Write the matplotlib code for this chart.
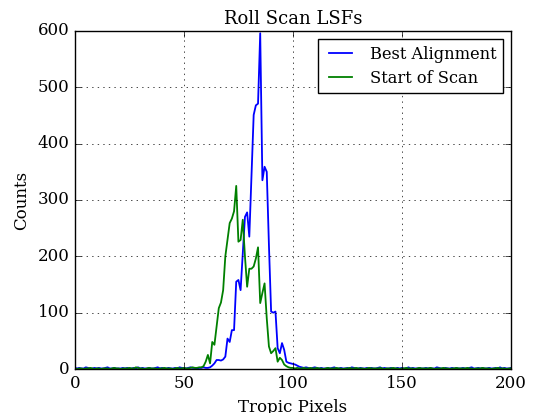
import matplotlib
matplotlib.use('Agg')
import matplotlib.pyplot as plt
import numpy as np

plt.style.use('classic')
plt.rcParams['font.family'] = 'serif'
plt.rcParams['font.serif'] = ['DejaVu Serif']

# Counts per tropic pixel, 0..200
best_alignment = [
    2, 1, 2, 1, 1, 3, 2, 1, 1, 2,
    1, 2, 1, 1, 2, 3, 1, 1, 2, 1,
    1, 1, 2, 1, 2, 1, 1, 2, 1, 3,
    1, 2, 1, 1, 2, 1, 1, 2, 3, 1,
    2, 1, 1, 2, 1, 1, 2, 1, 3, 2,
    2, 1, 2, 3, 2, 2, 1, 2, 2, 3,
    2, 2, 3, 6, 10, 16, 16, 15, 17, 22,
    54, 48, 69, 69, 155, 158, 140, 205, 270, 278,
    235, 345, 451, 468, 471, 596, 335, 359, 350, 220,
    102, 100, 102, 37, 28, 46, 34, 13, 11, 10,
    9, 8, 6, 4, 3, 2, 3, 2, 1, 2,
    3, 2, 1, 2, 1, 1, 2, 1, 2, 3,
    1, 1, 2, 1, 1, 2, 1, 3, 2, 1,
    1, 2, 1, 1, 2, 1, 2, 1, 1, 2,
    3, 1, 2, 1, 1, 2, 1, 1, 2, 1,
    2, 1, 1, 3, 1, 2, 1, 1, 2, 1,
    1, 2, 1, 2, 1, 1, 3, 2, 1, 1,
    2, 1, 1, 2, 1, 2, 1, 1, 2, 1,
    1, 2, 3, 1, 1, 2, 1, 2, 1, 1,
    2, 1, 1, 2, 1, 3, 1, 2, 1, 1,
    2,
]

start_of_scan = [
    1, 0, 1, 1, 0, 1, 1, 2, 1, 0,
    1, 1, 0, 1, 1, 1, 0, 1, 2, 1,
    1, 0, 1, 1, 1, 2, 1, 1, 3, 2,
    1, 1, 0, 1, 2, 1, 1, 1, 0, 1,
    1, 2, 1, 1, 1, 0, 1, 2, 1, 1,
    2, 1, 1, 2, 3, 2, 2, 3, 3, 5,
    13, 25, 10, 48, 43, 75, 108, 118, 140, 200,
    229, 259, 267, 280, 325, 226, 229, 265, 200, 146,
    178, 178, 182, 196, 216, 117, 135, 152, 90, 40,
    28, 32, 37, 13, 20, 16, 8, 5, 3, 2,
    2, 1, 2, 1, 1, 2, 1, 1, 2, 1,
    1, 2, 1, 1, 0, 1, 2, 1, 1, 1,
    2, 1, 1, 0, 1, 1, 2, 1, 1, 2,
    1, 1, 1, 0, 1, 2, 1, 1, 1, 1,
    2, 1, 0, 1, 1, 1, 2, 1, 1, 0,
    1, 1, 2, 1, 1, 1, 0, 1, 2, 1,
    1, 1, 1, 2, 1, 0, 1, 1, 1, 2,
    1, 1, 0, 1, 1, 2, 1, 1, 1, 1,
    2, 1, 1, 0, 1, 1, 1, 2, 1, 1,
    1, 0, 1, 1, 2, 1, 1, 1, 0, 1,
    1,
]

pixels = np.arange(len(best_alignment))

fig = plt.figure(figsize=(5.35, 4.13), dpi=100, facecolor='white')
ax = fig.add_axes([0.140, 0.1065, 0.815, 0.8185])
ax.plot(pixels, best_alignment, color='b', lw=1.3, label='Best Alignment')
ax.plot(pixels, start_of_scan, color='g', lw=1.3, label='Start of Scan')
ax.set_xlim(0, 200)
ax.set_ylim(0, 600)
ax.set_xticks(np.arange(0, 201, 50))
ax.set_yticks(np.arange(0, 601, 100))
ax.grid(True)
ax.set_title('Roll Scan LSFs', fontsize=13)
ax.set_xlabel('Tropic Pixels', fontsize=12)
ax.set_ylabel('Counts', fontsize=12)
ax.tick_params(labelsize=12)
ax.legend(loc='upper right', fontsize=11.7, labelspacing=0.45, borderpad=0.4)
fig.savefig('out.png', dpi=100, facecolor='white')
